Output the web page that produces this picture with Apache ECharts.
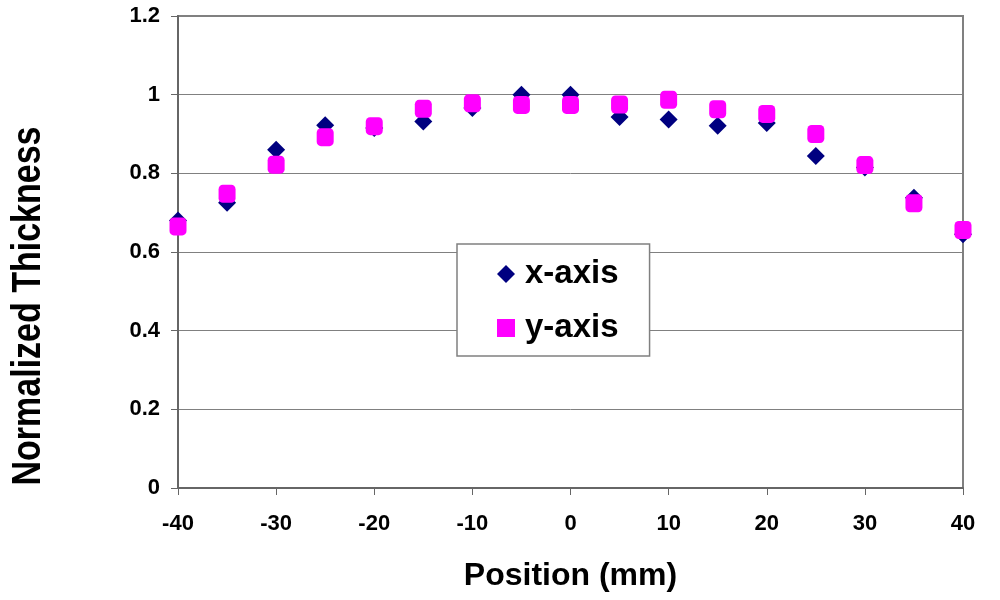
<!DOCTYPE html>
<html><head><meta charset="utf-8">
<script src="https://cdn.jsdelivr.net/npm/echarts@6/dist/echarts.min.js"></script>
<style>html,body{margin:0;padding:0;background:#fff}#c{width:1000px;height:600px}</style>
</head><body><div id="c"></div>
<script>
const positions = [-40,-35,-30,-25,-20,-15,-10,-5,0,5,10,15,20,25,30,35,40];
const xAxisVals = [0.68,0.725,0.86,0.922,0.915,0.932,0.966,1.0,1.0,0.943,0.937,0.921,0.928,0.844,0.815,0.738,0.645];
const yAxisVals = [0.665,0.748,0.822,0.892,0.92,0.964,0.978,0.974,0.974,0.975,0.987,0.963,0.951,0.90,0.821,0.724,0.656];
const xTicks = [-40,-30,-20,-10,0,10,20,30,40];
const yTicks = [0,0.2,0.4,0.6,0.8,1,1.2];

const font = 'Liberation Sans, Arial, sans-serif';
const chart = echarts.init(document.getElementById('c'));
chart.setOption({
  animation:false,
  backgroundColor:'#fff',
  grid:{left:178,right:37,top:16,bottom:112,containLabel:false,outerBoundsMode:'none',
    show:true,borderColor:'#808080',borderWidth:2,backgroundColor:'transparent'},
  graphic:[{type:'text',x:29,y:306,rotation:Math.PI/2,scaleY:1.2,
    style:{text:'Normalized Thickness',fontFamily:font,fontWeight:'bold',fontSize:34,fill:'#000',align:'center',verticalAlign:'middle'}}],
  xAxis:{type:'value',min:-40,max:40,interval:10,
    name:'Position (mm)',nameLocation:'middle',nameGap:72,
    nameTextStyle:{fontFamily:font,fontWeight:'bold',fontSize:32,color:'#000'},
    axisLine:{show:true,onZero:false,lineStyle:{color:'#666',width:2}},
    axisTick:{show:true,inside:false,length:7,lineStyle:{color:'#666',width:1}},
    axisLabel:{fontFamily:font,fontWeight:'bold',fontSize:22,color:'#000',margin:25,
      formatter:v=>xTicks.includes(v)?String(v):''},
    splitLine:{show:false}},
  yAxis:{type:'value',min:0,max:1.2,interval:0.2,
    axisLine:{show:true,onZero:false,lineStyle:{color:'#666',width:2}},
    axisTick:{show:true,inside:false,length:7,lineStyle:{color:'#666',width:1}},
    axisLabel:{fontFamily:font,fontWeight:'bold',fontSize:22,color:'#000',margin:18,
      formatter:v=>{const t=yTicks.find(k=>Math.abs(k-v)<1e-9);return t===undefined?'':String(t);}},
    splitLine:{show:true,lineStyle:{color:'#808080',width:1}}},
  legend:{
    orient:'vertical',left:457,top:244,
    padding:[13,31,11,40],itemGap:20,
    backgroundColor:'#fff',borderColor:'#808080',borderWidth:1.5,borderRadius:0,
    itemWidth:18,itemHeight:18,
    textStyle:{fontFamily:font,fontWeight:'bold',fontSize:33,lineHeight:34,color:'#000',padding:[0,0,0,5]},
    data:[{name:'x-axis',icon:'diamond',itemStyle:{color:'#000080'}},{name:'y-axis',icon:'rect',itemStyle:{color:'#ff00ff'}}]
  },
  series:[
    {name:'x-axis',type:'scatter',symbol:'diamond',symbolSize:[18,18],
      itemStyle:{color:'#000080',opacity:1},data:positions.map((p,i)=>[p,xAxisVals[i]]),z:2},
    {name:'y-axis',type:'scatter',symbol:'roundRect',symbolSize:[17,18],
      itemStyle:{color:'#ff00ff',opacity:1},data:positions.map((p,i)=>[p,yAxisVals[i]]),z:3}
  ]
});
</script></body></html>
